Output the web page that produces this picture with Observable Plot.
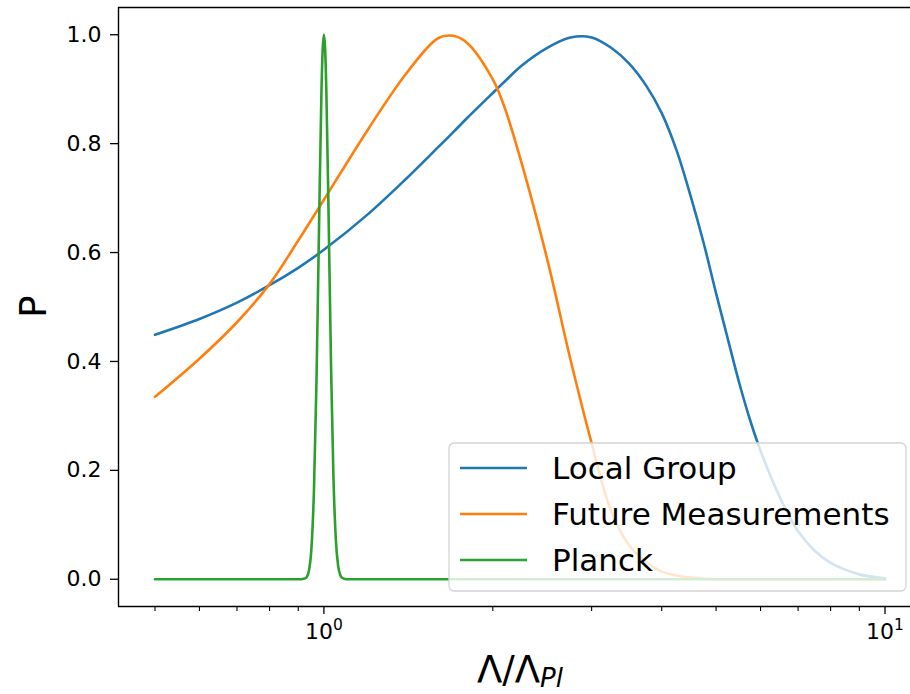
<!DOCTYPE html>
<html>
<head>
<meta charset="utf-8">
<script src="https://cdn.jsdelivr.net/npm/d3@7"></script>
<script src="https://cdn.jsdelivr.net/npm/@observablehq/plot@0.6"></script>
<style>
  html, body { margin: 0; padding: 0; background: #fff; overflow: hidden; }
  #chart svg { display: block; overflow: hidden; }
</style>
</head>
<body>
<div id="chart"></div>
<script>
// Λ/Λ_Pl sample points shared by the two broad distributions
const lambdaGrid = [0.5, 0.6, 0.7, 0.8, 0.9, 1.0, 1.2, 1.4, 1.6, 1.7, 1.8, 2.0, 2.1, 2.25, 2.5, 2.75, 3.0, 3.25, 3.5, 3.75, 4.0, 4.25, 4.5, 4.75, 5.0, 5.25, 5.5, 5.75, 6.0, 6.5, 7.0, 7.5, 8.0, 9.0, 10.0];
const localGroup = [0.449, 0.478, 0.508, 0.540, 0.572, 0.605, 0.671, 0.735, 0.794, 0.821, 0.847, 0.893, 0.914, 0.943, 0.976, 0.995, 0.995, 0.976, 0.947, 0.907, 0.856, 0.788, 0.705, 0.618, 0.525, 0.440, 0.360, 0.292, 0.236, 0.150, 0.088, 0.052, 0.030, 0.009, 0.002];
const futureMeasurements = [0.335, 0.405, 0.472, 0.542, 0.622, 0.697, 0.827, 0.928, 0.994, 0.998, 0.985, 0.918, 0.866, 0.765, 0.588, 0.404, 0.250, 0.125, 0.062, 0.032, 0.014, 0.007, 0.003, 0.001, 0, 0, 0, 0, 0, 0, 0, 0, 0, 0, 0];

// Planck: narrow peak around Λ/Λ_Pl = 1
const planckLambda = [0.5, 0.9, 0.92, 0.93, 0.94, 0.95, 0.96, 0.97, 0.98, 0.99, 0.995, 1.0, 1.005, 1.01, 1.02, 1.03, 1.04, 1.05, 1.06, 1.07, 1.08, 1.1, 10.0];
const planck = [0, 0, 0.001, 0.003, 0.015, 0.056, 0.163, 0.364, 0.641, 0.896, 0.973, 1.0, 0.974, 0.898, 0.652, 0.385, 0.187, 0.074, 0.025, 0.007, 0.002, 0, 0];

const seriesNames = ["Local Group", "Future Measurements", "Planck"];
const seriesColors = ["#1f77b4", "#ff7f0e", "#2ca02c"];

const yTicks = [0, 0.2, 0.4, 0.6, 0.8, 1.0];
const xMajorTicks = [1, 10];
const xMajorExponents = ["0", "1"];
const xMinorTicks = [0.5, 0.6, 0.7, 0.8, 0.9, 2, 3, 4, 5, 6, 7, 8, 9];

const toRows = (xs, ps) => xs.map((x, i) => ({x, p: ps[i]}));
const rows = [
  toRows(lambdaGrid, localGroup),
  toRows(lambdaGrid, futureMeasurements),
  toRows(planckLambda, planck)
];
const curves = ["catmull-rom", "catmull-rom", "monotone-x"];

// 5% padding on the log axis around the sampled range
const lo = Math.log10(0.5), hi = Math.log10(10), pad = 0.05 * (hi - lo);
const xLo = Math.pow(10, lo - pad), xHi = Math.pow(10, hi + pad);

const W = 910, H = 694;
const mL = 118, mT = 7, mB = 88;

const svg = Plot.plot({
  width: W, height: H,
  marginLeft: mL, marginRight: 0, marginTop: mT, marginBottom: mB,
  style: {fontFamily: "'DejaVu Sans', sans-serif", fontSize: "22px", color: "black", background: "white", overflow: "hidden"},
  x: {type: "log", domain: [xLo, xHi], range: [mL, 921]},
  y: {domain: [-0.05, 1.05]},
  marks: [
    ...rows.map((r, i) => Plot.line(r, {x: "x", y: "p", stroke: seriesColors[i], strokeWidth: 2.6, curve: curves[i]})),
    Plot.ruleY([-0.05, 1.05], {stroke: "black", strokeWidth: 1.4}),
    Plot.ruleX([xLo], {stroke: "black", strokeWidth: 1.4}),
    Plot.axisY(yTicks, {tickSize: 8, tickPadding: 9, tickFormat: d3.format(".1f"), label: null, fontSize: 22, strokeWidth: 1.3}),
    Plot.axisX(xMajorTicks, {tickSize: 8, tickPadding: 9, tickFormat: d => "10^" + xMajorExponents[xMajorTicks.indexOf(d)], label: null, fontSize: 22, strokeWidth: 1.3}),
    Plot.axisX(xMinorTicks, {tickSize: 5, tickFormat: () => "", label: null, strokeWidth: 1.1})
  ]
});

const root = d3.select(svg);

// power-of-ten tick labels: base plus raised exponent
root.selectAll("text").each(function() {
  const m = /^10\^(\d+)$/.exec(this.textContent);
  if (!m) return;
  const t = d3.select(this);
  t.text(null);
  t.append("tspan").text("10");
  t.append("tspan").attr("font-size", 15.5).attr("dy", -9).text(m[1]);
});

// axis titles
root.append("text")
  .attr("transform", "translate(33,306.5) rotate(-90)")
  .attr("text-anchor", "middle")
  .attr("dy", "0.36em")
  .attr("font-size", 37)
  .attr("fill", "black")
  .text("P");

const xt = root.append("text")
  .attr("x", 520).attr("y", 682)
  .attr("text-anchor", "middle")
  .attr("font-size", 37)
  .attr("fill", "black");
xt.append("tspan").text("Λ/Λ");
xt.append("tspan").attr("font-size", 26).attr("font-style", "italic").attr("dy", 5).text("Pl");

// legend
const lg = root.append("g");
lg.append("rect")
  .attr("x", 449).attr("y", 443).attr("width", 457).attr("height", 148)
  .attr("rx", 5)
  .attr("fill", "white").attr("fill-opacity", 0.8)
  .attr("stroke", "#d4d4d4").attr("stroke-width", 1.3);
seriesNames.forEach((name, i) => {
  const y = 468 + i * 46;
  lg.append("line").attr("x1", 460).attr("x2", 527).attr("y1", y).attr("y2", y)
    .attr("stroke", seriesColors[i]).attr("stroke-width", 2.6);
  lg.append("text").attr("x", 552).attr("y", y).attr("dy", "0.36em")
    .attr("text-anchor", "start")
    .attr("font-size", 31).attr("fill", "black").text(name);
});

document.getElementById("chart").appendChild(svg);
</script>
</body>
</html>
